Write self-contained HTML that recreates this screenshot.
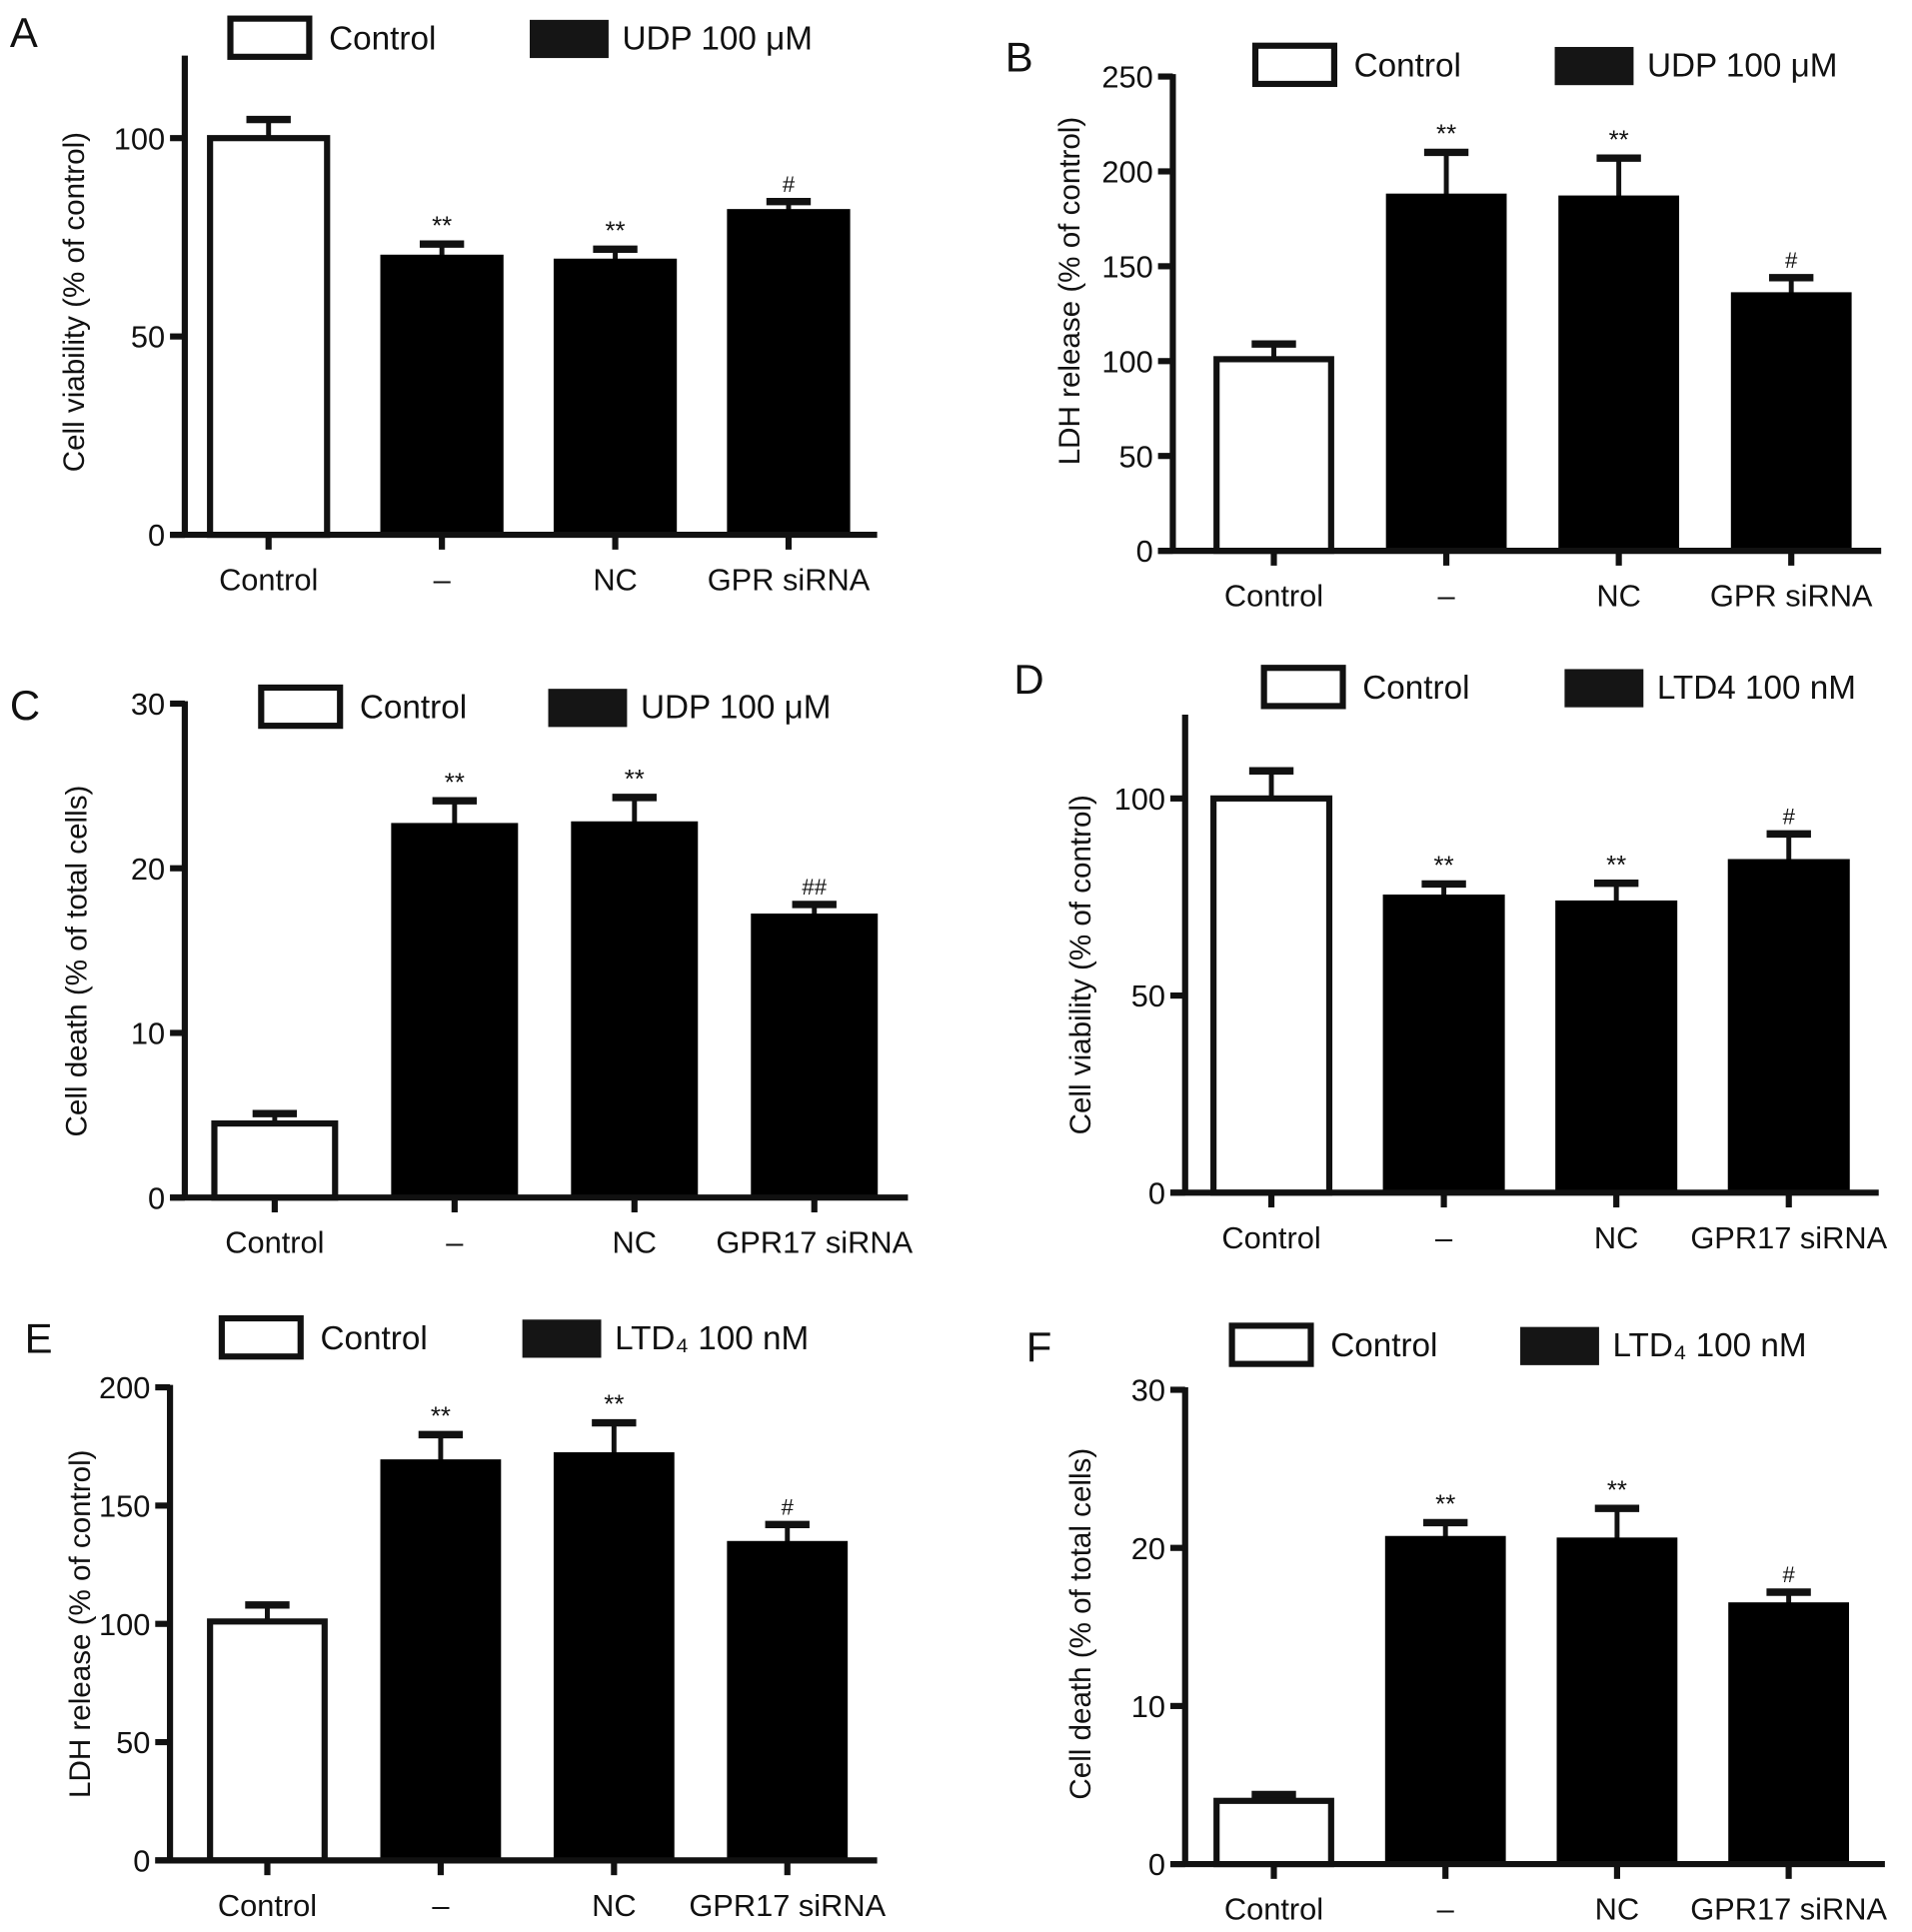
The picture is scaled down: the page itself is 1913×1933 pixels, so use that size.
<!DOCTYPE html>
<html><head><meta charset="utf-8"><style>
html,body{margin:0;padding:0;background:#fff}
svg{display:block}
text{font-family:"Liberation Sans",sans-serif;fill:#111}
</style></head><body>
<svg id="fig" width="1913" height="1933" viewBox="0 0 1552 1568" xmlns="http://www.w3.org/2000/svg"></svg>
<script>
// ---- data ----
const catsAB = ["Control", "–", "NC", "GPR siRNA"];
const cats17 = ["Control", "–", "NC", "GPR17 siRNA"];
const valuesA = [100, 70, 69, 81.5];
const errA = [4.7, 3.3, 3, 2.5];
const marksA = ["", "**", "**", "#"];
const ticksA = [0, 50, 100];
const valuesB = [101, 187, 186, 135];
const errB = [8, 23, 21, 9];
const marksB = ["", "**", "**", "#"];
const ticksB = [0, 50, 100, 150, 200, 250];
const valuesC = [4.5, 22.6, 22.7, 17.1];
const errC = [0.6, 1.5, 1.6, 0.7];
const marksC = ["", "**", "**", "##"];
const ticksC = [0, 10, 20, 30];
const valuesD = [100, 75, 73.5, 84];
const errD = [7, 3.3, 5, 7];
const marksD = ["", "**", "**", "#"];
const ticksD = [0, 50, 100];
const valuesE = [101, 168.5, 171.5, 134];
const errE = [7, 11.5, 13.5, 8];
const marksE = ["", "**", "**", "#"];
const ticksE = [0, 50, 100, 150, 200];
const valuesF = [4, 20.6, 20.5, 16.4];
const errF = [0.4, 1, 2, 0.8];
const marksF = ["", "**", "**", "#"];
const ticksF = [0, 10, 20, 30];

const NS = "http://www.w3.org/2000/svg";
const svg = document.getElementById("fig");
function mk(parent, tag, attrs, txt) {
  const e = document.createElementNS(NS, tag);
  for (const k in attrs) e.setAttribute(k, attrs[k]);
  if (txt !== undefined) e.textContent = txt;
  parent.appendChild(e);
  return e;
}

function panel(p) {
  const g = mk(svg, "g", {});
  
  
  const y = v => p.y0 - (v - 0) * (p.y0 - p.yTopTick) / p.yMaxTick;
  const x = i => p.c0 + i * p.step;
  const L = mk(g, "text", {x: p.lx, y: p.ly, "font-size": 34}, p.id);
  
  
  const lg = mk(g, "g", {});
  
  
  mk(lg, "rect", {x: p.legX, y: p.legY, width: 64, height: 31, fill: "#fff", stroke: "#111", "stroke-width": 5});
  const t1 = mk(lg, "text", {x: p.legX + 80, y: p.legY + 25, "font-size": 27}, "Control");
  
  
  mk(lg, "rect", {x: p.legX2, y: p.legY + 1, width: 64, height: 31, fill: "#151515"});
  const t2 = mk(lg, "text", {x: p.legX2 + 75, y: p.legY + 25, "font-size": 27}, p.treat);
  
  
  p.values.forEach((v, i) => {
    const cx = x(i), top = y(v), et = y(v + p.err[i]);
    const bw = p.bw;
    mk(g, "line", {x1: cx, x2: cx, y1: top, y2: et, stroke: "#111", "stroke-width": 4});
    mk(g, "line", {x1: cx - 18, x2: cx + 18, y1: et, y2: et, stroke: "#111", "stroke-width": 6});
    let b;
    if (i === 0) b = mk(g, "rect", {x: cx - bw / 2 + 2.5, y: top, width: bw - 5, height: p.y0 - top, fill: "#fff", stroke: "#111", "stroke-width": 5});
    else b = mk(g, "rect", {x: cx - bw / 2, y: top - 2, width: bw, height: p.y0 - top + 2, fill: "#000"});
    
    
    if (p.marks[i]) {
      const m = mk(g, "text", {x: cx, y: et - 8, "font-size": p.marks[i][0] === "*" ? 21 : 18, "text-anchor": "middle"}, p.marks[i]);
      
      
    }
    mk(g, "line", {x1: cx, x2: cx, y1: p.y0, y2: p.y0 + 12, stroke: "#111", "stroke-width": 5});
    const xl = mk(g, "text", {x: cx, y: p.y0 + 45, "font-size": 25, "text-anchor": "middle"}, p.cats[i]);
    
    
  });
  const ya = mk(g, "line", {x1: p.ax, x2: p.ax, y1: p.yTop, y2: p.y0 + 2, stroke: "#111", "stroke-width": 5});
  
  
  const xa = mk(g, "line", {x1: p.ax - 12, x2: p.axEnd, y1: p.y0, y2: p.y0, stroke: "#111", "stroke-width": 5});
  
  
  p.ticks.forEach(t => {
    mk(g, "line", {x1: p.ax - 12, x2: p.ax, y1: y(t), y2: y(t), stroke: "#111", "stroke-width": 5});
    const tl = mk(g, "text", {x: p.ax - 16, y: y(t) + 9, "font-size": 25, "text-anchor": "end"}, t);
    
    
  });
  const yl = mk(g, "text", {x: 0, y: 0, "font-size": 24, "text-anchor": "middle", transform: `translate(${p.ylx},${p.yly}) rotate(-90)`}, p.ylabel);
  
  
}

panel({id: "A", cats: catsAB, values: valuesA, err: errA, marks: marksA, ticks: ticksA, yMaxTick: 100,
  y0: 434, yTopTick: 112, yTop: 45, ax: 150, axEnd: 712, c0: 218, step: 140.7, bw: 100,
  lx: 8, ly: 38, legX: 187, legY: 15, legX2: 430, treat: "UDP 100 μM",
  ylabel: "Cell viability (% of control)", ylx: 68, yly: 245});
panel({id: "B", cats: catsAB, values: valuesB, err: errB, marks: marksB, ticks: ticksB, yMaxTick: 250,
  y0: 447, yTopTick: 62, yTop: 60, ax: 952, axEnd: 1527, c0: 1034, step: 140, bw: 98,
  lx: 816, ly: 58, legX: 1019, legY: 37, legX2: 1262, treat: "UDP 100 μM",
  ylabel: "LDH release (% of control)", ylx: 876, yly: 236});
panel({id: "C", cats: cats17, values: valuesC, err: errC, marks: marksC, ticks: ticksC, yMaxTick: 30,
  y0: 972, yTopTick: 571, yTop: 569, ax: 150, axEnd: 737, c0: 223, step: 146, bw: 103,
  lx: 8, ly: 584, legX: 212, legY: 558, legX2: 445, treat: "UDP 100 μM",
  ylabel: "Cell death (% of total cells)", ylx: 70, yly: 780});
panel({id: "D", cats: cats17, values: valuesD, err: errD, marks: marksD, ticks: ticksD, yMaxTick: 100,
  y0: 968, yTopTick: 648, yTop: 580, ax: 962, axEnd: 1525, c0: 1032, step: 140, bw: 99,
  lx: 823, ly: 563, legX: 1026, legY: 542, legX2: 1270, treat: "LTD4 100 nM",
  ylabel: "Cell viability (% of control)", ylx: 885, yly: 783});
panel({id: "E", cats: cats17, values: valuesE, err: errE, marks: marksE, ticks: ticksE, yMaxTick: 200,
  y0: 1510, yTopTick: 1126, yTop: 1124, ax: 138, axEnd: 712, c0: 217, step: 140.7, bw: 98,
  lx: 20, ly: 1098, legX: 180, legY: 1070, legX2: 424, treat: "LTD₄ 100 nM",
  ylabel: "LDH release (% of control)", ylx: 73, yly: 1318});
panel({id: "F", cats: cats17, values: valuesF, err: errF, marks: marksF, ticks: ticksF, yMaxTick: 30,
  y0: 1513, yTopTick: 1128, yTop: 1126, ax: 962, axEnd: 1530, c0: 1034, step: 139.3, bw: 98,
  lx: 833, ly: 1105, legX: 1000, legY: 1076, legX2: 1234, treat: "LTD₄ 100 nM",
  ylabel: "Cell death (% of total cells)", ylx: 885, yly: 1318});
</script>
</body></html>
